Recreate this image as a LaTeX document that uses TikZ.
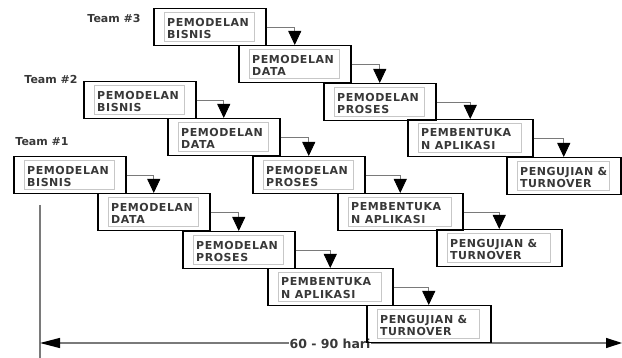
\documentclass[tikz,border=0pt]{standalone}
\usepackage{fontspec}
\setmainfont{DejaVu Sans}
\newfontfamily\boxfont[LetterSpace=5]{DejaVu Sans}
\usetikzlibrary{arrows.meta}
\definecolor{txt}{HTML}{383838}
\definecolor{conn}{HTML}{7A7A7A}
\tikzset{
  stage/.style={draw=black, line width=1.5pt, minimum height=37pt, minimum width=#1,
    inner sep=0pt, anchor=north west,
    path picture={\draw[black!22, line width=0.6pt]
      ([shift={(11pt,-4pt)}]path picture bounding box.north west) rectangle
      ([shift={(-11pt,4pt)}]path picture bounding box.south east);}},
  stagetext/.style={anchor=west, inner sep=0pt, align=left, text=txt,
    font=\boxfont\bfseries\fontsize{11}{12.5}\selectfont},
  team/.style={text=txt, inner sep=0pt, font=\bfseries\fontsize{11}{13}\selectfont},
  link/.style={draw=conn, line width=0.8pt, -{Triangle[length=14pt,width=13pt,color=black]}},
  span/.style={draw=conn, line width=1.2pt, {Triangle[length=20pt,width=10pt,color=black]}-{Triangle[length=16pt,width=10pt,color=black]}},
}
\begin{document}
\begin{tikzpicture}[x=1pt,y=-1pt]
\useasboundingbox (0,0) rectangle (622,358);

% time axis
\coordinate (axtop) at (40,205);
\coordinate (axbot) at (40,358);
\coordinate (L) at (40,343);
\coordinate (R) at (622,343);
\draw[draw=conn, line width=1.2pt] (axtop) -- (axbot);
\draw[span] (L) -- (R);
\node[fill=white, inner sep=1pt, text=txt, font=\bfseries\fontsize{12.5}{14}\selectfont] (dur) at (330,344) {60 - 90 hari};

% team labels
\node[team] (t3) at (114,18) {Team \#3};
\node[team] (t2) at (51,79) {Team \#2};
\node[team] (t1) at (42,142) {Team \#1};

% Team 3
\node[stage=112pt] (B3) at (153,8) {};
\node[stage=112pt] (D3) at (238,45) {};
\node[stage=112pt] (P3) at (323,83) {};
\node[stage=125pt] (A3) at (407,119) {};
\node[stage=114pt] (T3) at (506,157) {};
% Team 2
\node[stage=112pt] (B2) at (83,81) {};
\node[stage=112pt] (D2) at (167,118) {};
\node[stage=112pt] (P2) at (252,156) {};
\node[stage=125pt] (A2) at (337,193) {};
\node[stage=125pt] (T2) at (436,229) {};
% Team 1
\node[stage=112pt] (B1) at (13,156) {};
\node[stage=112pt] (D1) at (97,193) {};
\node[stage=112pt] (P1) at (182,231) {};
\node[stage=125pt] (A1) at (267,268) {};
\node[stage=124pt] (T1) at (366,305) {};

% texts
\foreach \n in {B1,B2,B3}
  \node[stagetext] (\n txt) at ([xshift=14pt,yshift=-1pt]\n.west) {PEMODELAN\\BISNIS};
\foreach \n in {D1,D2,D3}
  \node[stagetext] (\n txt) at ([xshift=14pt,yshift=-1pt]\n.west) {PEMODELAN\\DATA};
\foreach \n in {P1,P2,P3}
  \node[stagetext] (\n txt) at ([xshift=14pt,yshift=-1pt]\n.west) {PEMODELAN\\PROSES};
\foreach \n in {A1,A2,A3}
  \node[stagetext] (\n txt) at ([xshift=14pt,yshift=-1pt]\n.west) {PEMBENTUKA\\N APLIKASI};
\foreach \n in {T1,T2,T3}
  \node[stagetext] (\n txt) at ([xshift=14pt,yshift=-1pt]\n.west) {PENGUJIAN \&\\TURNOVER};

% connectors
\foreach \a/\b in {B3/D3,D3/P3,P3/A3,A3/T3,B2/D2,D2/P2,P2/A2,A2/T2,B1/D1,D1/P1,P1/A1,A1/T1}
  \draw[link] (\a.east) -| (\b.north);
\end{tikzpicture}
\end{document}
